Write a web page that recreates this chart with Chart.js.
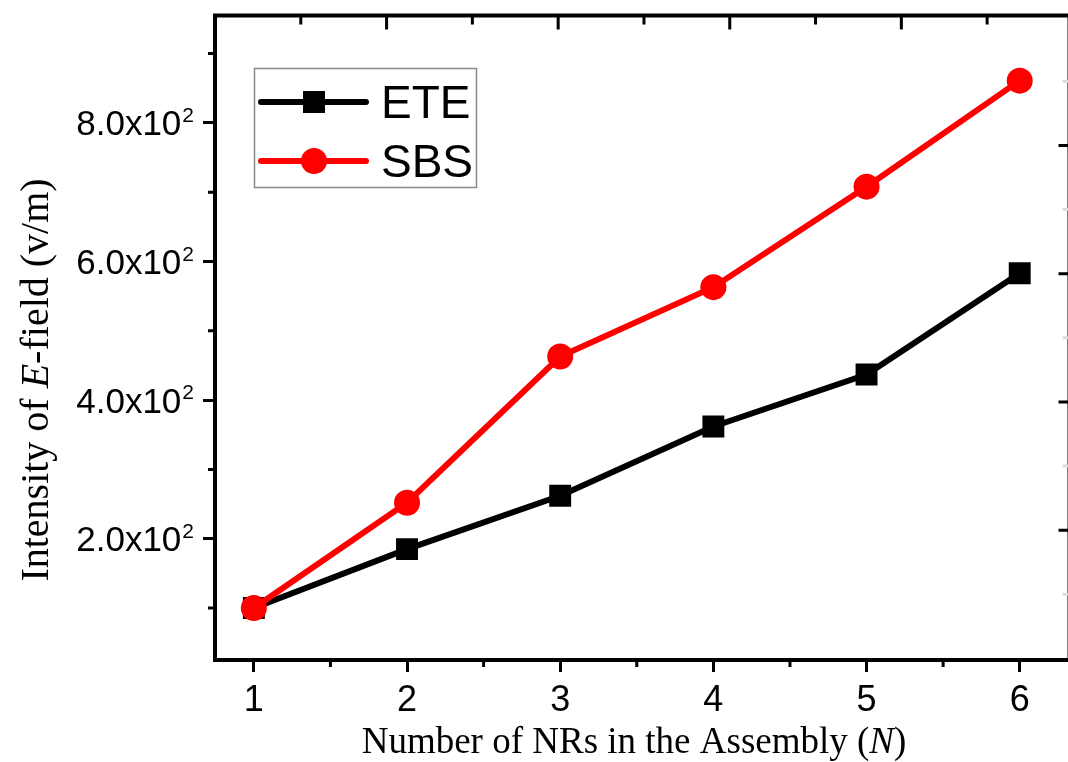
<!DOCTYPE html>
<html><head><meta charset="utf-8">
<script src="https://cdn.jsdelivr.net/npm/chart.js@4.4.0/dist/chart.umd.min.js"></script>
<style>html,body{margin:0;padding:0;overflow:hidden;background:#fff;width:1068px;height:762px}
#wrap{position:absolute;left:0;top:0;width:1085px;height:762px}</style>
</head><body><div id="wrap"><canvas id="c" width="1085" height="762"></canvas></div>
<script>
const categories = [1, 2, 3, 4, 5, 6];
const seriesNames = ['ETE', 'SBS'];
const eteValues = [100, 185, 262, 362, 437, 583];
const sbsValues = [100, 252, 463, 563, 708, 861];
const yTickValues = [200, 400, 600, 800];
const yTickBase = ['2.0x10', '4.0x10', '6.0x10', '8.0x10'];
const yTickExp = ['2', '2', '2', '2'];
const yMinorValues = [100, 300, 500, 700, 900];
const xTickValues = [1, 2, 3, 4, 5, 6];
const xTickLabels = ['1', '2', '3', '4', '5', '6'];
const xMinorValues = [1.5, 2.5, 3.5, 4.5, 5.5];
const topMajor = [1, 2, 3, 4];
const topMinor = [0.5, 1.5, 2.5, 3.5, 4.5];
const rightMajor = [1, 2, 3, 4];
const rightMinor = [0.5, 1.5, 2.5, 3.5, 4.5];

const SANS = '"Liberation Sans", Arial, sans-serif';
const SERIF = '"Liberation Serif", "Times New Roman", serif';

function drawMixed(ctx, parts, x, y, align) {
  let total = 0;
  const widths = parts.map(p => { ctx.font = p.font; const w = ctx.measureText(p.text).width; total += w; return w; });
  let cx = align === 'center' ? x - total / 2 : x;
  parts.forEach((p, i) => { ctx.font = p.font; ctx.fillText(p.text, cx, y); cx += widths[i]; });
}

const framePlugin = {
  id: 'frame',
  afterDraw(chart) {
    const ctx = chart.ctx, a = chart.chartArea;
    const sx = chart.scales.x, sy = chart.scales.y, sx2 = chart.scales.x2, sy2 = chart.scales.y2;
    ctx.save();
    ctx.strokeStyle = '#000';
    ctx.lineCap = 'butt';
    ctx.lineWidth = 4;
    ctx.beginPath();
    ctx.moveTo(a.left - 2, a.top); ctx.lineTo(a.right + 2, a.top);
    ctx.moveTo(a.right, a.top); ctx.lineTo(a.right, a.bottom);
    ctx.stroke();
    ctx.lineWidth = 3;
    ctx.beginPath();
    yMinorValues.forEach(v => { const p = sy.getPixelForValue(v); ctx.moveTo(a.left - 7, p); ctx.lineTo(a.left, p); });
    xMinorValues.forEach(v => { const p = sx.getPixelForValue(v); ctx.moveTo(p, a.bottom); ctx.lineTo(p, a.bottom + 7); });
    topMajor.forEach(v => { const p = sx2.getPixelForValue(v); ctx.moveTo(p, a.top); ctx.lineTo(p, a.top + 14); });
    topMinor.forEach(v => { const p = sx2.getPixelForValue(v); ctx.moveTo(p, a.top); ctx.lineTo(p, a.top + 9); });
    rightMajor.forEach(v => { const p = sy2.getPixelForValue(v); ctx.moveTo(a.right, p); ctx.lineTo(a.right - 11, p); });
    ctx.stroke();
    ctx.strokeStyle = '#dddddd';
    ctx.beginPath();
    rightMinor.forEach(v => { const p = sy2.getPixelForValue(v); ctx.moveTo(a.right, p); ctx.lineTo(a.right - 7, p); });
    ctx.stroke();

    // y tick labels with superscript exponent
    ctx.fillStyle = '#000';
    ctx.textBaseline = 'alphabetic';
    yTickValues.forEach((v, i) => {
      const p = sy.getPixelForValue(v);
      ctx.font = '21px ' + SANS;
      const ew = ctx.measureText(yTickExp[i]).width;
      const right = 194;
      ctx.textAlign = 'right';
      ctx.fillText(yTickExp[i], right, p - 1);
      ctx.font = '35px ' + SANS;
      ctx.fillText(yTickBase[i], right - ew - 1, p + 12.5);
    });
    ctx.textAlign = 'left';

    // axis titles
    drawMixed(ctx, [
      { text: 'Number of NRs in the Assembly (', font: '37px ' + SERIF },
      { text: 'N', font: 'italic 37px ' + SERIF },
      { text: ')', font: '37px ' + SERIF }
    ], 634, 753, 'center');
    ctx.save();
    ctx.translate(48, 380);
    ctx.rotate(-Math.PI / 2);
    drawMixed(ctx, [
      { text: 'Intensity of ', font: '40px ' + SERIF },
      { text: 'E', font: 'italic 40px ' + SERIF },
      { text: '-field (v/m)', font: '40px ' + SERIF }
    ], 0, 0, 'center');
    ctx.restore();

    // legend
    ctx.lineWidth = 1.5;
    ctx.strokeStyle = '#8a8a8a';
    ctx.strokeRect(254.5, 68.5, 222, 119);
    const rows = [118, 177];
    chart.data.datasets.forEach((ds, i) => {
      const cy = rows[i] - 16;
      ctx.strokeStyle = ds.borderColor;
      ctx.lineWidth = 6;
      ctx.lineCap = 'round';
      ctx.beginPath(); ctx.moveTo(261, cy); ctx.lineTo(366, cy); ctx.stroke();
      ctx.fillStyle = ds.pointBackgroundColor;
      if (ds.pointStyle === 'rect') {
        ctx.fillRect(314 - 11, cy - 11, 22, 22);
      } else {
        ctx.beginPath(); ctx.arc(314, cy, 13, 0, Math.PI * 2); ctx.fill();
      }
      ctx.fillStyle = '#000';
      ctx.font = '46px ' + SANS;
      ctx.fillText(ds.label, 381, rows[i]);
    });
    ctx.restore();
  }
};

const tickGrid = { display: true, drawOnChartArea: false, drawTicks: true, tickLength: 12, tickWidth: 3, tickColor: '#000' };

new Chart(document.getElementById('c'), {
  type: 'line',
  data: {
    datasets: [
      {
        label: seriesNames[0],
        data: categories.map((c, i) => ({ x: c, y: eteValues[i] })),
        borderColor: '#000000', backgroundColor: '#000000',
        pointBackgroundColor: '#000000', pointBorderColor: '#000000',
        pointStyle: 'rect', pointRadius: 15.5, pointBorderWidth: 0,
        borderWidth: 6, tension: 0, order: 2
      },
      {
        label: seriesNames[1],
        data: categories.map((c, i) => ({ x: c, y: sbsValues[i] })),
        borderColor: '#ff0000', backgroundColor: '#ff0000',
        pointBackgroundColor: '#ff0000', pointBorderColor: '#ff0000',
        pointStyle: 'circle', pointRadius: 13, pointBorderWidth: 0,
        borderWidth: 6, tension: 0, order: 1
      }
    ]
  },
  options: {
    responsive: false,
    devicePixelRatio: 1,
    animation: false,
    layout: { padding: { top: 15, right: 12, left: 0, bottom: 0 } },
    plugins: { legend: { display: false }, tooltip: { enabled: false } },
    scales: {
      x: {
        type: 'linear', position: 'bottom', min: 0.7464, max: 6.325,
        afterBuildTicks: s => { s.ticks = xTickValues.map(v => ({ value: v })); },
        afterFit: s => { s.height = 102; s.paddingLeft = 0; s.paddingRight = 0; },
        ticks: {
          callback: v => xTickLabels[xTickValues.indexOf(v)],
          font: { family: SANS, size: 36 }, color: '#000', padding: 7, maxRotation: 0, autoSkip: false
        },
        grid: tickGrid,
        border: { display: true, color: '#000', width: 4 }
      },
      y: {
        type: 'linear', position: 'left', min: 25, max: 955,
        afterBuildTicks: s => { s.ticks = yTickValues.map(v => ({ value: v })); },
        afterFit: s => { s.width = 215; s.paddingTop = 0; s.paddingBottom = 0; },
        ticks: { display: false },
        grid: tickGrid,
        border: { display: true, color: '#000', width: 4 }
      },
      x2: { type: 'linear', axis: 'x', position: 'top', display: false, min: 0, max: 4.98 },
      y2: { type: 'linear', axis: 'y', position: 'right', display: false, min: -0.013, max: 5.014 }
    }
  },
  plugins: [framePlugin]
});
</script>
</body></html>
